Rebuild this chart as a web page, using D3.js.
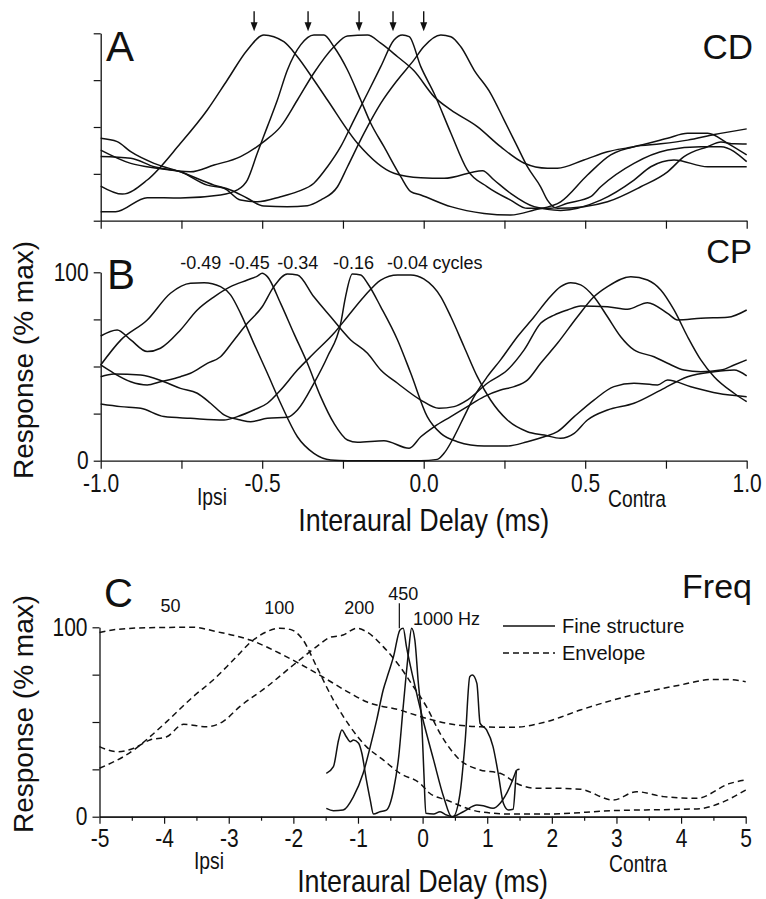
<!DOCTYPE html>
<html><head><meta charset="utf-8">
<script src="https://cdn.jsdelivr.net/npm/d3@7/dist/d3.min.js"></script>
<style>body{margin:0;background:#fff}svg{display:block}</style>
</head><body>
<script>
// ---------- DATA ----------
// Panel A (CD): response (% max) vs interaural delay (ms)
const a1 = [[-1.0,18.5],[-0.933,14.2],[-0.856,21.7],[-0.753,41.3],[-0.67,59.1],[-0.608,75.1],[-0.546,91.1],[-0.495,99.1],[-0.433,95.5],[-0.391,87.5],[-0.34,75.1],[-0.298,64.4],[-0.205,41.3],[-0.092,25.3],[-0.009,22.9],[0.063,22.6],[0.182,26.7],[0.218,21.7],[0.269,14.6],[0.342,7.5],[0.424,5.5],[0.548,11.0],[0.651,21.7],[0.703,28.8],[0.775,32.4],[0.879,28.8],[1.0,28.8]];
const a2 = [[-1.0,4.8],[-0.954,4.8],[-0.856,12.3],[-0.753,12.1],[-0.629,13.7],[-0.577,16.4],[-0.546,21.7],[-0.515,36.1],[-0.484,50.2],[-0.453,64.4],[-0.422,80.4],[-0.381,93.8],[-0.34,99.1],[-0.309,99.1],[-0.278,92.8],[-0.236,80.4],[-0.195,64.4],[-0.164,52.0],[-0.123,39.5],[-0.071,23.5],[-0.04,15.5],[-0.009,13.7],[0.084,7.5],[0.187,3.9],[0.269,3.0],[0.342,5.7],[0.424,10.1],[0.507,24.4],[0.579,35.1],[0.651,39.5],[0.734,41.0],[0.817,43.0],[0.9,46.0],[1.0,49.0]];
const a3 = [[-1.0,37.7],[-0.907,30.6],[-0.825,28.0],[-0.722,26.1],[-0.649,29.7],[-0.567,34.2],[-0.495,42.2],[-0.443,50.2],[-0.391,64.4],[-0.34,78.8],[-0.278,92.8],[-0.236,98.6],[-0.174,99.1],[-0.133,94.7],[-0.081,87.5],[-0.03,80.0],[0.032,66.2],[0.084,59.1],[0.166,50.2],[0.238,39.5],[0.31,30.8],[0.383,28.0],[0.414,28.0],[0.496,32.4],[0.569,36.8],[0.65,39.5],[0.755,44.0],[0.817,46.6],[0.879,46.6],[0.941,41.3],[1.0,35.1]];
const a4 = [[-1.0,34.2],[-0.907,33.3],[-0.835,28.8],[-0.753,26.1],[-0.67,19.0],[-0.618,17.3],[-0.567,11.0],[-0.515,10.1],[-0.443,12.8],[-0.391,15.5],[-0.34,20.0],[-0.298,28.8],[-0.257,39.5],[-0.216,53.7],[-0.174,68.0],[-0.133,82.2],[-0.092,96.4],[-0.066,99.1],[-0.045,98.2],[-0.009,82.2],[0.032,68.0],[0.084,46.8],[0.135,27.1],[0.197,18.1],[0.269,11.0],[0.321,6.6],[0.393,6.6],[0.445,9.3],[0.517,12.8],[0.548,18.1],[0.651,30.6],[0.755,37.7],[0.858,39.5],[0.92,39.5],[1.0,31.5]];
const a5 = [[-1.0,44.0],[-0.949,42.2],[-0.907,36.8],[-0.835,30.6],[-0.753,26.1],[-0.649,19.0],[-0.598,16.4],[-0.546,12.0],[-0.495,7.8],[-0.422,7.5],[-0.36,8.0],[-0.319,11.0],[-0.267,18.1],[-0.236,28.8],[-0.185,46.6],[-0.133,62.6],[-0.081,75.1],[-0.03,85.8],[0.0,92.8],[0.053,99.1],[0.084,98.2],[0.115,92.8],[0.156,80.4],[0.207,68.0],[0.249,53.7],[0.29,39.5],[0.321,28.8],[0.362,18.1],[0.383,11.0],[0.414,6.6],[0.496,7.5],[0.569,10.1],[0.672,18.1],[0.755,26.1],[0.806,34.2],[0.879,39.5],[0.92,42.0],[0.961,41.0],[1.0,40.9]];
const arrowsA = [-0.525, -0.358, -0.2, -0.095, 0.0];

// Panel B (CP)
const b1 = [[-1.0,50.8],[-0.938,64.0],[-0.856,74.7],[-0.784,88.9],[-0.722,94.2],[-0.68,94.5],[-0.629,92.4],[-0.598,88.0],[-0.567,78.2],[-0.526,62.3],[-0.484,46.4],[-0.443,30.5],[-0.391,12.7],[-0.34,3.9],[-0.288,0.4],[-0.236,0],[-0.009,0],[0.042,0.7],[0.063,3.9],[0.094,12.7],[0.125,23.4],[0.156,34.0],[0.197,44.6],[0.238,53.5],[0.29,65.8],[0.342,76.4],[0.383,85.3],[0.424,92.4],[0.455,94.5],[0.486,93.3],[0.527,87.0],[0.569,76.4],[0.61,65.8],[0.651,58.8],[0.713,55.2],[0.755,51.7],[0.806,48.1],[0.858,47.2],[0.92,48.1],[0.961,50.8],[1.0,53.5]];
const b2 = [[-1.0,66.2],[-0.949,69.4],[-0.907,64.1],[-0.856,57.9],[-0.815,59.7],[-0.753,69.4],[-0.701,80.0],[-0.649,87.0],[-0.598,92.4],[-0.546,95.9],[-0.515,98.0],[-0.5,99.5],[-0.484,97.7],[-0.443,83.5],[-0.402,67.6],[-0.36,51.7],[-0.319,34.0],[-0.278,19.9],[-0.236,11.0],[-0.205,9.8],[-0.123,10.6],[-0.045,6.6],[-0.009,12.7],[0.032,18.0],[0.084,23.4],[0.135,28.7],[0.187,34.0],[0.238,37.5],[0.28,39.3],[0.321,42.8],[0.362,51.7],[0.414,62.3],[0.476,76.4],[0.527,87.0],[0.569,92.4],[0.641,97.7],[0.693,95.9],[0.734,90.6],[0.775,80.0],[0.817,65.8],[0.858,53.5],[0.899,44.6],[0.961,35.8],[1.0,31.3]];
const b3 = [[-1.0,50.8],[-0.959,46.4],[-0.907,41.9],[-0.856,40.2],[-0.815,41.9],[-0.753,44.6],[-0.722,46.4],[-0.67,51.7],[-0.629,55.2],[-0.587,64.1],[-0.546,72.9],[-0.5,81.7],[-0.464,92.4],[-0.422,99.1],[-0.391,98.6],[-0.34,87.0],[-0.288,76.4],[-0.226,64.1],[-0.174,57.0],[-0.133,48.1],[-0.081,41.1],[-0.009,32.2],[0.047,27.8],[0.094,28.7],[0.135,32.2],[0.197,41.1],[0.259,48.1],[0.311,58.8],[0.362,72.9],[0.404,77.3],[0.445,80.0],[0.486,82.1],[0.569,81.7],[0.631,80.4],[0.693,83.9],[0.755,78.2],[0.786,74.7],[0.858,75.6],[0.941,76.1],[1.0,80.0]];
const b4 = [[-1.0,44.6],[-0.959,46.0],[-0.876,45.5],[-0.804,41.9],[-0.753,38.4],[-0.701,35.8],[-0.66,30.5],[-0.618,24.3],[-0.567,21.6],[-0.536,20.7],[-0.484,22.5],[-0.422,23.0],[-0.391,26.9],[-0.34,41.1],[-0.298,55.2],[-0.257,72.9],[-0.242,87.0],[-0.221,99.1],[-0.195,98.6],[-0.174,94.2],[-0.133,81.7],[-0.081,64.1],[-0.04,46.4],[0.011,23.4],[0.053,14.5],[0.104,10.1],[0.187,7.8],[0.259,7.8],[0.321,10.1],[0.373,12.7],[0.414,15.4],[0.466,23.4],[0.527,32.2],[0.589,39.3],[0.651,41.1],[0.724,40.2],[0.755,42.8],[0.827,39.3],[0.91,35.8],[1.0,34.0]];
const b5 = [[-1.0,30.1],[-0.938,28.7],[-0.876,27.8],[-0.804,23.4],[-0.722,22.5],[-0.618,21.6],[-0.577,23.4],[-0.526,26.9],[-0.484,30.5],[-0.443,37.5],[-0.391,48.1],[-0.34,57.0],[-0.278,67.6],[-0.236,76.4],[-0.185,87.0],[-0.133,95.9],[-0.081,98.6],[-0.04,98.6],[0.0,96.5],[0.053,87.0],[0.084,76.4],[0.125,60.5],[0.166,44.6],[0.207,32.2],[0.259,21.6],[0.321,15.4],[0.373,13.6],[0.424,11.9],[0.466,14.5],[0.507,21.6],[0.569,26.9],[0.651,30.5],[0.734,37.5],[0.817,44.6],[0.899,47.2],[0.961,48.1],[1.0,45.0]];
const phaseLabelsB = [["-0.49",-0.69],["-0.45",-0.54],["-0.34",-0.39],["-0.16",-0.217],["-0.04",-0.05]];

// Panel C (Freq)
const env50 = [[-5,97.2],[-4.73,98.9],[-4.22,99.8],[-3.55,100],[-3.19,97.7],[-2.67,93.3],[-2.16,85.4],[-1.64,75.7],[-1.12,65.2],[-0.87,60.7],[-0.35,56.3],[0.0,52.5],[0.37,49.3],[0.89,47.5],[1.4,47.2],[1.92,50.2],[2.44,56.3],[2.95,61.6],[3.47,66.0],[3.98,69.5],[4.5,72.5],[4.71,72.5],[5.0,71.3]];
const env100 = [[-5,25.6],[-4.47,35.2],[-4.22,42.2],[-3.96,50.2],[-3.55,63.4],[-3.24,72.2],[-2.93,82.7],[-2.62,93.3],[-2.41,97.7],[-2.21,99.5],[-2.05,98.9],[-1.85,93.3],[-1.64,79.2],[-1.38,61.6],[-1.12,47.5],[-0.87,37.0],[-0.61,30.0],[-0.35,22.9],[-0.04,17.6],[0.11,12.4],[0.37,8.8],[0.89,2.6],[1.4,1.4],[1.92,1.4],[2.95,3.2],[3.98,3.9],[4.29,4.2],[4.6,7.1],[5.0,14.1]];
const env200 = [[-5,37.0],[-4.73,34.3],[-4.47,36.1],[-4.22,40.5],[-3.96,42.2],[-3.7,48.8],[-3.34,47.5],[-3.09,50.2],[-2.83,58.1],[-2.41,68.6],[-2.0,80.1],[-1.64,89.8],[-1.43,94.7],[-1.23,95.9],[-1.02,99.5],[-0.87,97.7],[-0.61,89.8],[-0.35,79.2],[-0.14,68.6],[0.06,58.1],[0.27,44.0],[0.58,29.9],[0.89,24.7],[1.2,22.9],[1.51,16.7],[1.76,15.0],[2.07,15.0],[2.44,14.5],[2.95,8.8],[3.31,13.2],[3.73,10.6],[4.24,9.7],[4.76,17.6],[5.0,19.4]];
const fine450 = [[-1.49,4.4],[-1.38,3.2],[-1.23,3.5],[-1.07,10.6],[-0.92,22.9],[-0.81,37.0],[-0.71,51.1],[-0.61,66.9],[-0.53,75.7],[-0.45,84.5],[-0.35,98.6],[-0.3,99.5],[-0.25,89.8],[-0.14,72.2],[0.0,52.0],[0.17,30.0],[0.33,10.0],[0.45,0],[0.63,2.6],[0.84,6.2],[0.94,5.8],[1.09,4.4],[1.2,7.1],[1.35,15.8],[1.45,24.5]];
const fine1000 = [[-1.49,22.9],[-1.38,26.4],[-1.3,40.5],[-1.25,45.8],[-1.18,42.2],[-1.12,39.6],[-1.07,40.5],[-0.99,38.8],[-0.94,33.5],[-0.87,19.4],[-0.81,8.8],[-0.76,1.4],[-0.66,2.6],[-0.56,3.5],[-0.45,14.1],[-0.37,31.7],[-0.3,58.1],[-0.22,86.3],[-0.17,99.5],[-0.12,93.3],[-0.07,72.2],[-0.01,47.5],[0.02,22.9],[0.05,1.8],[0.17,1.4],[0.27,2.6],[0.37,0.9],[0.47,0],[0.58,12.4],[0.66,40.5],[0.73,73.9],[0.77,74.8],[0.84,70.4],[0.89,49.3],[0.99,45.8],[1.09,37.0],[1.17,22.9],[1.25,7.1],[1.33,3.5],[1.4,3.9],[1.46,24.7],[1.5,25.0]];
const freqLabelsC = [["50",-3.9,108],["100",-2.22,107],["200",-0.98,107]];

const ticksAB = [-1,-0.75,-0.5,-0.25,0,0.25,0.5,0.75,1];
const labelsAB = {"-1":"-1.0","-0.5":"-0.5","0":"0.0","0.5":"0.5","1":"1.0"};
const ticksCmajor = [-5,-4,-3,-2,-1,0,1,2,3,4,5];
const ticksCminor = [-4.5,-3.5,-2.5,-1.5,-0.5,0.5,1.5,2.5,3.5,4.5];
const ticksY = [0,25,50,75,100];

// ---------- DRAW ----------
const FONT = "'Liberation Sans', Arial, Helvetica, sans-serif";
const INK = "#111";
const NARROW = 0.84;
const svg = d3.select("body").append("svg").attr("width",766).attr("height",899)
  .style("font-family", FONT);
svg.append("rect").attr("width",766).attr("height",899).attr("fill","#fff");

const xAB = d3.scaleLinear().domain([-1,1]).range([100.7,746.7]);
const yA = d3.scaleLinear().domain([0,100]).range([220.7,33.3]);
const yB = d3.scaleLinear().domain([0,100]).range([460.7,272.3]);
const xC = d3.scaleLinear().domain([-5,5]).range([99.5,745.7]);
const yC = d3.scaleLinear().domain([0,100]).range([816.7,627.3]);

function styleAxis(g, fs, left){
  g.select(".domain").attr("stroke",INK).attr("stroke-width",1.3);
  g.selectAll(".tick line").attr("stroke",INK).attr("stroke-width",1.2);
  const t = g.selectAll(".tick text").attr("fill",INK).style("font-size",fs+"px").style("font-family",FONT)
    .attr("transform",`scale(${NARROW},1)`);
  if (left) t.attr("x", function(){ return (+d3.select(this).attr("x"))/NARROW; });
}
function label(x, y, str, fs, opts={}){
  const sx = opts.narrow ? NARROW : 1;
  const rot = opts.rotate ? ` rotate(${opts.rotate})` : "";
  return svg.append("text")
    .attr("transform", `translate(${x},${y})${rot} scale(${sx},1)`)
    .attr("text-anchor", opts.anchor || "start")
    .style("font-size", fs+"px").attr("fill", INK).text(str);
}
function drawLines(data, xs, ys, dashed){
  const line = d3.line().x(d=>xs(d[0])).y(d=>ys(d[1])).curve(d3.curveMonotoneX);
  data.forEach(arr=>{
    svg.append("path").attr("d",line(arr)).attr("fill","none").attr("stroke",INK)
      .attr("stroke-width",1.5).attr("stroke-linejoin","round")
      .attr("stroke-dasharray", dashed ? "6,4" : null);
  });
}

// Panel A
svg.append("g").attr("transform",`translate(0,${yA(0)})`)
  .call(d3.axisBottom(xAB).tickValues(ticksAB).tickFormat("").tickSize(8).tickSizeOuter(0))
  .call(g=>styleAxis(g,26));
svg.append("g").attr("transform",`translate(${xAB(-1)},0)`)
  .call(d3.axisLeft(yA).tickValues(ticksY).tickFormat("").tickSize(7).tickSizeOuter(0))
  .call(g=>styleAxis(g,26,true));
drawLines([a1,a2,a3,a4,a5], xAB, yA, false);
arrowsA.forEach(v=>{
  const x = xAB(v), y1 = yA(100)-22, y2 = yA(100)-2;
  svg.append("line").attr("x1",x).attr("x2",x).attr("y1",y1).attr("y2",y2-4)
    .attr("stroke",INK).attr("stroke-width",1.4);
  svg.append("path").attr("d",`M${x-3.5},${y2-9} L${x},${y2} L${x+3.5},${y2-9} Z`).attr("fill",INK);
});
label(106, 61, "A", 42);
label(753, 59, "CD", 35, {anchor:"end"});

// Panel B
svg.append("g").attr("transform",`translate(0,${yB(0)})`)
  .call(d3.axisBottom(xAB).tickValues(ticksAB).tickFormat(d=>labelsAB[String(d)]||"").tickSize(8).tickPadding(6).tickSizeOuter(0))
  .call(g=>styleAxis(g,25));
svg.append("g").attr("transform",`translate(${xAB(-1)},0)`)
  .call(d3.axisLeft(yB).tickValues(ticksY).tickFormat(d=>(d===0||d===100)?String(d):"").tickSize(7).tickPadding(5).tickSizeOuter(0))
  .call(g=>styleAxis(g,25,true));
drawLines([b1,b2,b3,b4,b5], xAB, yB, false);
label(107, 289, "B", 42);
label(752, 263, "CP", 33, {anchor:"end"});
phaseLabelsB.forEach(([t,v])=> label(xAB(v), yB(100)-3, t, 18, {anchor:"middle"}));
label(xAB(-0.05)+25, yB(100)-3, "cycles", 18);
label(33, 360, "Response (% max)", 28, {anchor:"middle", rotate:-90});
label(212, 505, "Ipsi", 23, {anchor:"middle", narrow:true});
label(637, 507, "Contra", 23, {anchor:"middle", narrow:true});
label(xAB(0), 531, "Interaural Delay (ms)", 32, {anchor:"middle", narrow:true});

// Panel C
svg.append("g").attr("transform",`translate(0,${yC(0)})`)
  .call(d3.axisBottom(xC).tickValues(ticksCmajor).tickFormat(d=>String(d)).tickSize(7).tickPadding(6).tickSizeOuter(0))
  .call(g=>styleAxis(g,25));
svg.append("g").attr("transform",`translate(0,${yC(0)})`)
  .call(d3.axisBottom(xC).tickValues(ticksCminor).tickFormat("").tickSize(4).tickSizeOuter(0))
  .call(g=>styleAxis(g,25));
svg.append("g").attr("transform",`translate(${xC(-5)},0)`)
  .call(d3.axisLeft(yC).tickValues(ticksY).tickFormat(d=>(d===0||d===100)?String(d):"").tickSize(7).tickPadding(5).tickSizeOuter(0))
  .call(g=>styleAxis(g,25,true));
drawLines([env50,env100,env200], xC, yC, true);
drawLines([fine450,fine1000], xC, yC, false);
label(104, 607, "C", 40);
label(752, 598, "Freq", 34, {anchor:"end"});
freqLabelsC.forEach(([t,v,yy])=> label(xC(v), yC(yy), t, 18, {anchor:"middle"}));
label(xC(-0.3), yC(100)-27, "450", 18, {anchor:"middle"});
svg.append("line").attr("x1",xC(-0.36)).attr("x2",xC(-0.36)).attr("y1",yC(100)-24).attr("y2",yC(100)+1).attr("stroke",INK).attr("stroke-width",1.2);
label(xC(-0.15), yC(100)-2, "1000 Hz", 18);
// legend
svg.append("line").attr("x1",503).attr("x2",555).attr("y1",626).attr("y2",626).attr("stroke",INK).attr("stroke-width",1.5);
svg.append("line").attr("x1",503).attr("x2",555).attr("y1",653).attr("y2",653).attr("stroke",INK).attr("stroke-width",1.5).attr("stroke-dasharray","6,4");
label(562, 633, "Fine structure", 20);
label(562, 660, "Envelope", 20);
label(33, 714, "Response (% max)", 28, {anchor:"middle", rotate:-90});
label(209, 869, "Ipsi", 23, {anchor:"middle", narrow:true});
label(638, 872, "Contra", 23, {anchor:"middle", narrow:true});
label(xC(0), 892, "Interaural Delay (ms)", 32, {anchor:"middle", narrow:true});
</script>
</body></html>
